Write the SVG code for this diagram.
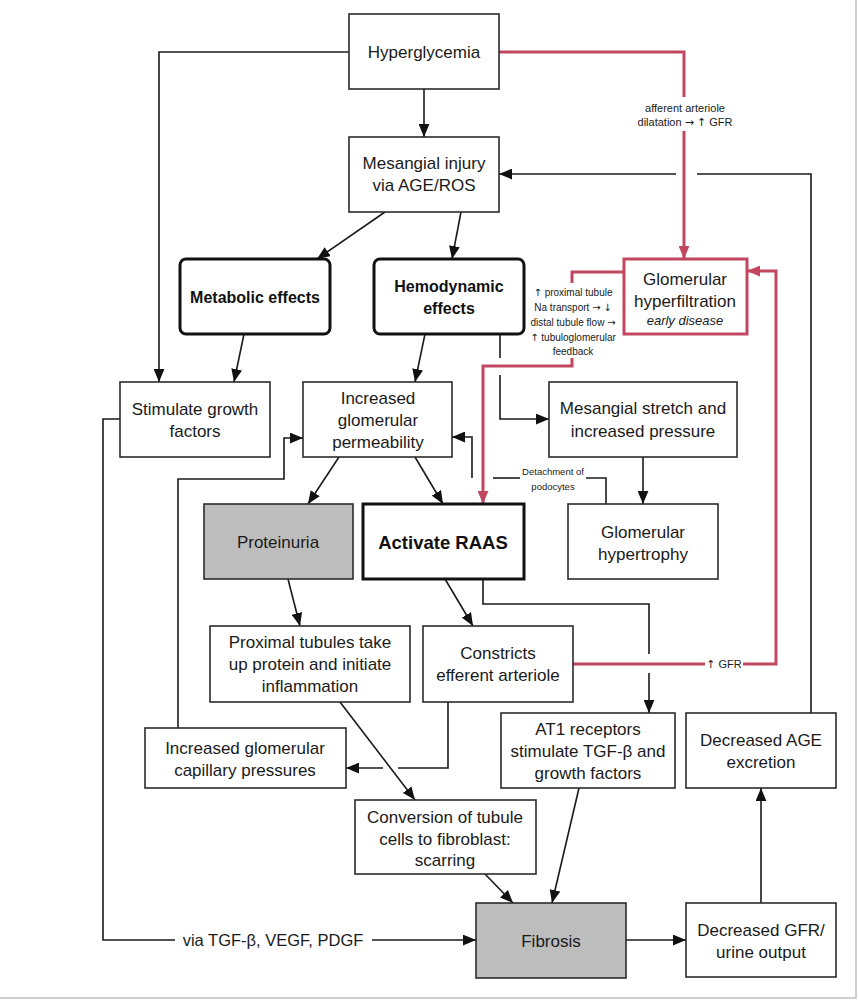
<svg xmlns="http://www.w3.org/2000/svg" width="858" height="1000" viewBox="0 0 858 1000">
<defs>
<style>
.box{fill:#fff;stroke:#2b2b2b;stroke-width:1.6}
.thick{fill:#fff;stroke:#111;stroke-width:3}
.gray{fill:#bdbdbd;stroke:#2b2b2b;stroke-width:1.6}
.redbox{fill:#fff;stroke:#c0475f;stroke-width:3}
.t{font-family:"Liberation Sans",Arial,sans-serif;font-size:17px;fill:#1a1a1a;text-anchor:middle}
.b{font-family:"Liberation Sans",Arial,sans-serif;font-size:16px;font-weight:bold;fill:#111;text-anchor:middle}
.s{font-family:"Liberation Sans",Arial,sans-serif;font-size:10px;fill:#1a1a1a;text-anchor:middle}
.a{font-family:"DejaVu Sans",sans-serif}
.c{fill:none;stroke:#1a1a1a;stroke-width:1.6}
.r{fill:none;stroke:#c0475f;stroke-width:3}
</style>
<marker id="ah" viewBox="0 0 12 10" refX="12" refY="5" markerWidth="13" markerHeight="11" markerUnits="userSpaceOnUse" orient="auto"><path d="M0,0 L12,5 L0,10 z" fill="#111"/></marker>
<marker id="ahr" viewBox="0 0 12 10" refX="12" refY="5" markerWidth="13" markerHeight="11" markerUnits="userSpaceOnUse" orient="auto"><path d="M0,0 L12,5 L0,10 z" fill="#c0475f"/></marker>
</defs>
<rect width="858" height="1000" fill="#fff"/>
<path d="M856,0 V998 H0" fill="none" stroke="#cfcfcf" stroke-width="2"/>

<g id="connectors">
<path class="c" d="M349,52 H159 V382" marker-end="url(#ah)"/>
<path class="c" d="M424,89 V137" marker-end="url(#ah)"/>
<path class="c" d="M385,212 L317,259" marker-end="url(#ah)"/>
<path class="c" d="M461,212 L452,259" marker-end="url(#ah)"/>
<path class="c" d="M244,334 L234,382" marker-end="url(#ah)"/>
<path class="c" d="M425,334 L415,382" marker-end="url(#ah)"/>
<path class="c" d="M500,334 V358"/>
<path class="c" d="M500,375 V419 H549" marker-end="url(#ah)"/>
<path class="c" d="M339,457 L308,504" marker-end="url(#ah)"/>
<path class="c" d="M415,457 L443,504" marker-end="url(#ah)"/>
<path class="c" d="M643,457 V504" marker-end="url(#ah)"/>
<path class="c" d="M472,478 V437 H452" marker-end="url(#ah)"/>
<path class="c" d="M493,478 H520"/>
<path class="c" d="M586,478 H606 V504"/>
<path class="c" d="M288,579 L300,626" marker-end="url(#ah)"/>
<path class="c" d="M445,579 L473,626" marker-end="url(#ah)"/>
<path class="c" d="M483,579 V604 H649 V654"/>
<path class="c" d="M649,673 V713" marker-end="url(#ah)"/>
<path class="c" d="M178,728 V479 H284 V438 H303" marker-end="url(#ah)"/>
<path class="c" d="M448,702 V768 H398"/>
<path class="c" d="M383,768 H346" marker-end="url(#ah)"/>
<path class="c" d="M340,702 L415,800" marker-end="url(#ah)"/>
<path class="c" d="M485,874 L513,903" marker-end="url(#ah)"/>
<path class="c" d="M579,788 L552,903" marker-end="url(#ah)"/>
<path class="c" d="M120,419 H103 V940 H175"/>
<path class="c" d="M372,940 H476" marker-end="url(#ah)"/>
<path class="c" d="M626,940 H686" marker-end="url(#ah)"/>
<path class="c" d="M761,903 V788" marker-end="url(#ah)"/>
<path class="c" d="M811,713 V174 H697"/>
<path class="c" d="M676,174 H499" marker-end="url(#ah)"/>
<path class="r" d="M499,52 H684 V97"/>
<path class="r" d="M684,131 V259" marker-end="url(#ahr)"/>
<path class="r" d="M624,272 H572 V283"/>
<path class="r" d="M572,358 V366 H483 V504" marker-end="url(#ahr)"/>
<path class="r" d="M573,664 H705"/>
<path class="r" d="M743,664 H776 V271 H747" marker-end="url(#ahr)"/>
<text class="s" x="685" y="112" style="font-size:11px">afferent arteriole</text>
<text class="s" x="685" y="126" style="font-size:11px">dilatation <tspan class="a">→</tspan> <tspan class="a">↑</tspan> GFR</text>
<text class="s" x="573" y="296"><tspan class="a">↑</tspan> proximal tubule</text>
<text class="s" x="573" y="311">Na transport <tspan class="a">→</tspan> <tspan class="a">↓</tspan></text>
<text class="s" x="573" y="326">distal tubule flow <tspan class="a">→</tspan></text>
<text class="s" x="573" y="341"><tspan class="a">↑</tspan> tubuloglomerular</text>
<text class="s" x="573" y="355">feedback</text>
<text class="s" x="553" y="475" style="font-size:9.5px">Detachment of</text>
<text class="s" x="553" y="490" style="font-size:9.5px">podocytes</text>
<text class="s" x="724" y="668" style="font-size:11px"><tspan class="a">↑</tspan> GFR</text>
<text class="t" x="273" y="946" style="font-size:16.5px">via TGF-β, VEGF, PDGF</text>
</g>

<g id="hyperglycemia"><rect class="box" x="349" y="14" width="150" height="75"/><text class="t" x="424" y="58">Hyperglycemia</text></g>
<g id="mesangial-injury"><rect class="box" x="349" y="137" width="150" height="75"/><text class="t" x="424" y="169">Mesangial injury</text><text class="t" x="424" y="191">via AGE/ROS</text></g>
<g id="metabolic"><rect class="thick" x="180" y="259" width="150" height="75" rx="6"/><text class="b" x="255" y="303">Metabolic effects</text></g>
<g id="hemodynamic"><rect class="thick" x="374" y="259" width="150" height="75" rx="6"/><text class="b" x="449" y="292">Hemodynamic</text><text class="b" x="449" y="314">effects</text></g>
<g id="hyperfiltration"><rect class="redbox" x="624" y="259" width="123" height="75"/><text class="t" x="685" y="285">Glomerular</text><text class="t" x="685" y="307">hyperfiltration</text><text class="t" x="685" y="325" style="font-size:13px;font-style:italic">early disease</text></g>
<g id="growth-factors"><rect class="box" x="120" y="382" width="150" height="75"/><text class="t" x="195" y="415">Stimulate growth</text><text class="t" x="195" y="437">factors</text></g>
<g id="permeability"><rect class="box" x="303" y="382" width="149" height="75"/><text class="t" x="378" y="404">Increased</text><text class="t" x="378" y="426">glomerular</text><text class="t" x="378" y="448">permeability</text></g>
<g id="mesangial-stretch"><rect class="box" x="549" y="382" width="188" height="75"/><text class="t" x="643" y="414">Mesangial stretch and</text><text class="t" x="643" y="437">increased pressure</text></g>
<g id="proteinuria"><rect class="gray" x="204" y="504" width="149" height="75"/><text class="t" x="278" y="548">Proteinuria</text></g>
<g id="raas"><rect class="thick" x="363" y="504" width="161" height="75"/><text class="b" x="443" y="549" style="font-size:18.5px">Activate RAAS</text></g>
<g id="hypertrophy"><rect class="box" x="568" y="504" width="150" height="75"/><text class="t" x="643" y="538">Glomerular</text><text class="t" x="643" y="560">hypertrophy</text></g>
<g id="proximal-tubules"><rect class="box" x="210" y="626" width="200" height="76"/><text class="t" x="310" y="648">Proximal tubules take</text><text class="t" x="310" y="670">up protein and initiate</text><text class="t" x="310" y="692">inflammation</text></g>
<g id="constricts"><rect class="box" x="423" y="626" width="150" height="76"/><text class="t" x="498" y="659">Constricts</text><text class="t" x="498" y="681">efferent arteriole</text></g>
<g id="capillary-pressures"><rect class="box" x="145" y="728" width="201" height="60"/><text class="t" x="245" y="754">Increased glomerular</text><text class="t" x="245" y="776">capillary pressures</text></g>
<g id="at1"><rect class="box" x="501" y="713" width="174" height="75"/><text class="t" x="588" y="735">AT1 receptors</text><text class="t" x="588" y="757">stimulate TGF-β and</text><text class="t" x="588" y="779">growth factors</text></g>
<g id="age-excretion"><rect class="box" x="686" y="713" width="150" height="75"/><text class="t" x="761" y="746">Decreased AGE</text><text class="t" x="761" y="768">excretion</text></g>
<g id="conversion"><rect class="box" x="355" y="800" width="181" height="74"/><text class="t" x="445" y="823">Conversion of tubule</text><text class="t" x="445" y="845">cells to fibroblast:</text><text class="t" x="445" y="866">scarring</text></g>
<g id="fibrosis"><rect class="gray" x="476" y="903" width="150" height="75"/><text class="t" x="551" y="947">Fibrosis</text></g>
<g id="decreased-gfr"><rect class="box" x="686" y="903" width="150" height="74"/><text class="t" x="761" y="936">Decreased GFR/</text><text class="t" x="761" y="958">urine output</text></g>
</svg>
